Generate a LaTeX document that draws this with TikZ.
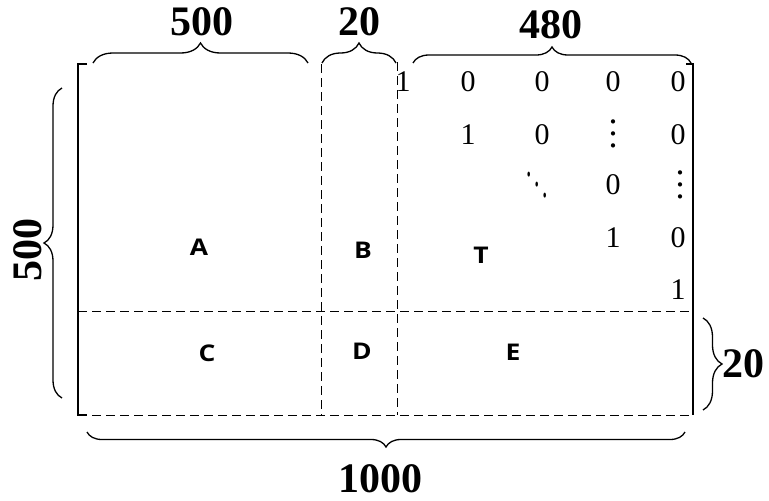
\documentclass[tikz,border=0pt]{standalone}
\usepackage{fontspec}
\setmainfont{Liberation Serif}
\newfontfamily\lblfont{Open Sans}
\usetikzlibrary{decorations.pathreplacing}
\begin{document}
\begin{tikzpicture}[x=1pt,y=-1pt,
  solidline/.style={line width=1.3pt},
  dashline/.style={line width=1pt, dash pattern=on 9pt off 5pt},
  bracestyle/.style={line width=1.3pt, decorate, decoration={brace, amplitude=#1}},
  dimtext/.style={inner sep=0pt, font=\fontsize{42}{42}\selectfont\bfseries},
  blocktext/.style={inner sep=0pt, transform shape, xscale=1.15, font=\lblfont\fontsize{23}{23}\selectfont\bfseries},
  entry/.style={inner sep=0pt, font=\fontsize{30}{30}\selectfont}]
\useasboundingbox (0,0) rectangle (769,501);
% frame
\coordinate (tl) at (78,64);
\coordinate (tls) at (87,64);
\coordinate (bl) at (78,415);
\coordinate (bls) at (87,415);
\coordinate (tr) at (693,64);
\coordinate (trs) at (686,64);
\coordinate (br) at (693,415);
\draw[solidline] (tls) -- (tl) -- (bl) -- (bls);
\draw[solidline] (trs) -- (tr) -- (br);
\draw[dashline] (bl) -- (br);
\coordinate (ml) at (78,311);
\coordinate (mr) at (693,311);
\draw[dashline] (ml) -- (mr);
\coordinate (v1t) at (321,64);
\coordinate (v1b) at (321,415);
\coordinate (v2t) at (397,62);
\coordinate (v2b) at (397,415);
\draw[dashline] (v1t) -- (v1b);
\draw[dashline] (v2t) -- (v2b);
% braces
\coordinate (b1a) at (93,63);
\coordinate (b1b) at (308,63);
\draw[bracestyle=20] (b1a) -- (b1b);
\coordinate (b2a) at (322,63);
\coordinate (b2b) at (396,63);
\draw[bracestyle=20] (b2a) -- (b2b);
\coordinate (b3a) at (413,63);
\coordinate (b3b) at (691,63);
\draw[bracestyle=16] (b3a) -- (b3b);
\coordinate (b4a) at (62,398);
\coordinate (b4b) at (62,88);
\draw[bracestyle=18] (b4a) -- (b4b);
\coordinate (b5a) at (703,318);
\coordinate (b5b) at (703,410);
\draw[bracestyle=19] (b5a) -- (b5b);
\coordinate (b6a) at (685,432);
\coordinate (b6b) at (87,432);
\draw[bracestyle=15] (b6a) -- (b6b);
% dimension labels
\node[dimtext] (d500) at (202,22) {500};
\node[dimtext] (d20) at (359,22) {20};
\node[dimtext] (d480) at (551,25) {480};
\node[dimtext, rotate=90] (d500l) at (28,250) {500};
\node[dimtext] (d20r) at (743,364) {20};
\node[dimtext] (d1000) at (380,479) {1000};
% block labels
\node[blocktext] (A) at (199,247) {A};
\node[blocktext] (B) at (363,250) {B};
\node[blocktext] (T) at (481,255) {T};
\node[blocktext] (C) at (207,353) {C};
\node[blocktext] (D) at (362,351) {D};
\node[blocktext] (E) at (513,352) {E};
% matrix entries
\node[entry] (m11) at (403,82) {1};
\node[entry] (m12) at (468,82) {0};
\node[entry] (m13) at (542,82) {0};
\node[entry] (m14) at (613,82) {0};
\node[entry] (m15) at (678,82) {0};
\node[entry] (m22) at (468,135) {1};
\node[entry] (m23) at (542,135) {0};
\node[entry] (m24) at (613,125) {\scalebox{3}{\large$\vdots$}};
\node[entry] (m25) at (678,135) {0};
\node[entry] (m33) at (537,174) {\scalebox{1.8}[3.5]{\large$\ddots$}};
\node[entry] (m34) at (613,185) {0};
\node[entry] (m35) at (680,176) {\scalebox{3}{\large$\vdots$}};
\node[entry] (m44) at (613,238) {1};
\node[entry] (m45) at (678,238) {0};
\node[entry] (m55) at (678,290) {1};
\end{tikzpicture}
\end{document}
